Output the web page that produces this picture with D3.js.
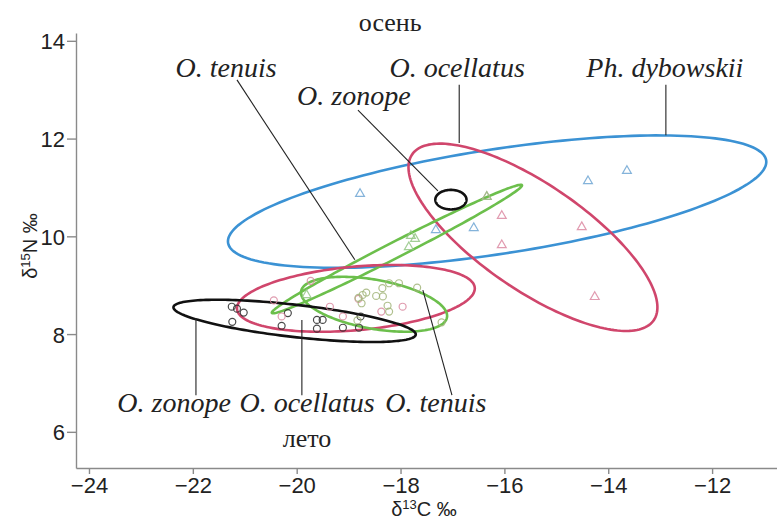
<!DOCTYPE html>
<html lang="ru">
  <head>
    <meta charset="utf-8" />
    <title>δ13C – δ15N</title>
    <script src="https://cdn.jsdelivr.net/npm/d3@7"></script>
    <style>
      body { margin: 0; background: #fff; }
      .tick text { font-family: "Liberation Sans", Arial, sans-serif; font-size: 22px; fill: #222; }
      .lbl { font-family: "Liberation Serif", "Times New Roman", serif; font-style: italic; font-size: 28px; fill: #222; }
      .season { font-family: "Liberation Serif", "Times New Roman", serif; font-size: 26px; fill: #222; }
      .axtitle { font-family: "Liberation Sans", Arial, sans-serif; font-size: 20px; fill: #222; }
    </style>
  </head>
  <body>
    <script>
      // оси
      const xTicks = [-24, -22, -20, -18, -16, -14, -12];
      const yTicks = [6, 8, 10, 12, 14];

      // осень (треугольники)
      const dybowskiiX = [-18.78, -17.32, -16.59, -14.39, -13.64];
      const dybowskiiY = [10.87, 10.13, 10.17, 11.13, 11.34];
      const ocellatusAutX = [-16.05, -16.05, -14.51, -14.26, -16.34];
      const ocellatusAutY = [10.42, 9.82, 10.19, 8.76, 10.81];
      const tenuisAutX = [-17.8, -17.72, -17.84, -19.81, -16.34];
      const tenuisAutY = [10.01, 9.95, 9.78, 8.8, 10.81];

      // лето (кружки)
      const zonopeSumX = [-21.25, -21.15, -21.02, -21.24, -20.17, -20.29, -19.61, -19.5, -19.61, -19.11, -18.77, -18.8];
      const zonopeSumY = [8.56, 8.52, 8.44, 8.25, 8.43, 8.17, 8.29, 8.29, 8.11, 8.13, 8.36, 8.13];
      const ocellatusSumX = [-20.44, -20.29, -19.73, -19.36, -19.11, -18.37, -17.96, -18.81];
      const ocellatusSumY = [8.69, 8.36, 9.09, 8.56, 8.36, 8.46, 8.56, 8.72];
      const tenuisSumX = [-18.81, -18.73, -18.66, -18.75, -18.47, -18.34, -18.35, -18.22, -18.03, -17.68, -18.25, -18.22, -17.21, -18.83];
      const tenuisSumY = [8.74, 8.8, 8.85, 8.63, 8.78, 8.77, 8.94, 9.04, 9.04, 8.95, 8.58, 8.46, 8.24, 8.28];

      // эллипсы: центр, полуоси, угол (градусы)
      const ellipseNames = ["dybowskii", "ocellatusAut", "tenuisAut", "zonopeAut", "ocellatusSum", "tenuisSum", "zonopeSum"];
      const ellipseCx = [-16.14, -15.45, -18.07, -17.03, -18.86, -18.51, -20.04];
      const ellipseCy = [10.71, 9.98, 9.74, 10.75, 8.73, 8.61, 8.27];
      const ellipseA = [5.25, 2.88, 2.74, 0.3, 2.3, 1.43, 2.35];
      const ellipseB = [1.07, 1.06, 0.16, 0.2, 0.65, 0.5, 0.33];
      const ellipseAngle = [9.3, -36.6, 28.5, 0, 5.5, -11, -6.9];
      const ellipseColors = ["#3b92d4", "#d0466c", "#6cbf4c", "#111", "#d0466c", "#6cbf4c", "#111"];

      const svg = d3.select("body").append("svg")
        .attr("width", 777)
        .attr("height", 519);

      const x = d3.scaleLinear().domain([-24.25, -10.75]).range([76, 777]);
      const y = d3.scaleLinear().domain([5.26, 14.16]).range([468, 33]);

      // оси
      const gx = svg.append("g")
        .attr("transform", "translate(0,468)")
        .call(d3.axisBottom(x).tickValues(xTicks).tickSize(6).tickSizeOuter(0).tickPadding(3));
      const gy = svg.append("g")
        .attr("transform", "translate(76,0)")
        .call(d3.axisLeft(y).tickValues(yTicks).tickSize(9).tickSizeOuter(0).tickPadding(2));
      svg.selectAll(".domain, .tick line").attr("stroke", "#8a8a8a").attr("stroke-width", 1.4);
      gy.selectAll(".tick text").attr("dy", "0.36em");

      // эллипсы
      const line = d3.line().x(d => x(d[0])).y(d => y(d[1])).curve(d3.curveLinearClosed);
      ellipseNames.forEach(function (name, i) {
        const t = ellipseAngle[i] * Math.PI / 180;
        const pts = d3.range(0, 2 * Math.PI, Math.PI / 90).map(function (s) {
          const ex = ellipseA[i] * Math.cos(s), ey = ellipseB[i] * Math.sin(s);
          return [ellipseCx[i] + ex * Math.cos(t) - ey * Math.sin(t),
                  ellipseCy[i] + ex * Math.sin(t) + ey * Math.cos(t)];
        });
        svg.append("path")
          .attr("class", "ellipse " + name)
          .attr("d", line(pts))
          .attr("fill", "none")
          .attr("stroke", ellipseColors[i])
          .attr("stroke-width", 2.6);
      });

      // точки
      function points(xs, ys, shape, color) {
        const sym = d3.symbol().type(shape).size(shape === d3.symbolTriangle ? 34 : 38);
        svg.append("g").selectAll("path")
          .data(xs.map((v, i) => [v, ys[i]]))
          .enter()
          .append("path")
          .attr("d", sym)
          .attr("transform", d => "translate(" + x(d[0]) + "," + y(d[1]) + ")")
          .attr("fill", "none")
          .attr("stroke", color)
          .attr("stroke-opacity", 0.85)
          .attr("stroke-width", 1.2);
      }
      points(dybowskiiX, dybowskiiY, d3.symbolTriangle, "#6fa6d4");
      points(ocellatusAutX, ocellatusAutY, d3.symbolTriangle, "#dc8aa2");
      points(tenuisAutX, tenuisAutY, d3.symbolTriangle, "#93c684");
      points(zonopeSumX, zonopeSumY, d3.symbolCircle, "#2a2a2a");
      points(ocellatusSumX, ocellatusSumY, d3.symbolCircle, "#d98aa0");
      points(tenuisSumX, tenuisSumY, d3.symbolCircle, "#a2b57a");

      // выноски
      const leaders = [
        [[-21.15, 13.2], [-18.88, 9.52]],
        [[-18.82, 12.58], [-17.28, 10.93]],
        [[-16.87, 13.1], [-16.87, 11.91]],
        [[-12.89, 13.1], [-12.89, 12.07]],
        [[-21.94, 8.33], [-21.94, 6.75]],
        [[-19.9, 8.29], [-19.9, 6.75]],
        [[-17.57, 8.9], [-17.01, 6.75]]
      ];
      svg.append("g").selectAll("line")
        .data(leaders)
        .enter()
        .append("line")
        .attr("x1", d => x(d[0][0])).attr("y1", d => y(d[0][1]))
        .attr("x2", d => x(d[1][0])).attr("y2", d => y(d[1][1]))
        .attr("stroke", "#222")
        .attr("stroke-width", 1.1);

      const labels = [
        ["O. tenuis", -21.36, 13.26],
        ["O. ocellatus", -16.91, 13.26],
        ["Ph. dybowskii", -12.91, 13.26],
        ["O. zonope", -18.9, 12.69],
        ["O. zonope", -22.36, 6.41],
        ["O. ocellatus", -19.8, 6.41],
        ["O. tenuis", -17.32, 6.41]
      ];
      svg.append("g").selectAll("text")
        .data(labels)
        .enter()
        .append("text")
        .attr("class", "lbl")
        .attr("x", d => x(d[1]))
        .attr("y", d => y(d[2]))
        .attr("text-anchor", "middle")
        .text(d => d[0]);

      svg.append("text").attr("class", "season")
        .attr("x", x(-18.2)).attr("y", y(14.2))
        .attr("text-anchor", "middle").text("осень");
      svg.append("text").attr("class", "season")
        .attr("x", x(-19.8)).attr("y", y(5.69))
        .attr("text-anchor", "middle").text("лето");

      // подписи осей
      const xt = svg.append("text").attr("class", "axtitle")
        .attr("x", 424).attr("y", 516).attr("text-anchor", "middle");
      xt.append("tspan").text("δ");
      xt.append("tspan").attr("font-size", "13px").attr("dy", "-7").text("13");
      xt.append("tspan").attr("dy", "7").text("C ‰");

      const yt = svg.append("text").attr("class", "axtitle")
        .attr("transform", "translate(37,246) rotate(-90)")
        .attr("text-anchor", "middle");
      yt.append("tspan").text("δ");
      yt.append("tspan").attr("font-size", "13px").attr("dy", "-7").text("15");
      yt.append("tspan").attr("dy", "7").text("N ‰");
    </script>
  </body>
</html>
